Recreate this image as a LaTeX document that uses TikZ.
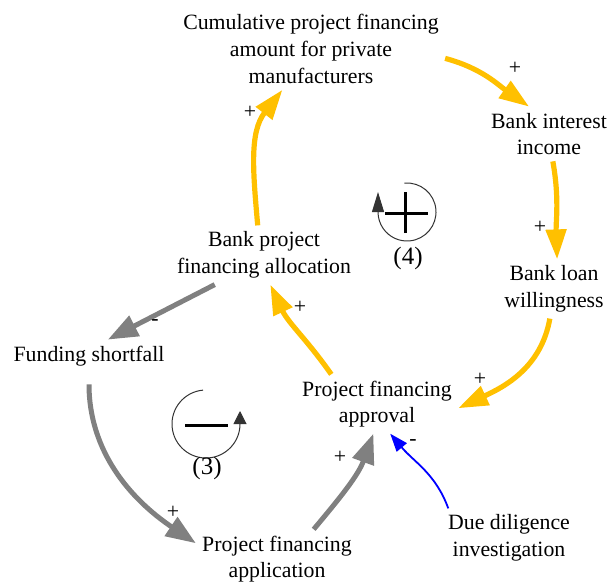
\documentclass[tikz,border=0pt]{standalone}
\usepackage{fontspec}
\setmainfont{Liberation Serif}
\usetikzlibrary{arrows.meta}

\definecolor{loopyellow}{HTML}{FFC000}
\definecolor{loopgray}{HTML}{808080}

\begin{document}
\begin{tikzpicture}[x=0.5pt, y=0.5pt,
		every node/.style={font=\fontsize{10.9}{13.3}\selectfont, inner sep=3pt, align=center},
		sign/.style={inner sep=0pt},
		loopnum/.style={font=\fontsize{12.5}{15}\selectfont},
		yellowlink/.style={color=loopyellow, line width=2.6pt, -{Triangle[length=15pt, width=10pt]}},
		graylink/.style={color=loopgray, line width=2.5pt, -{Triangle[length=15pt, width=11pt]}},
		bluelink/.style={color=blue, line width=0.9pt, -{Triangle[length=9pt, width=6.5pt]}},
		loopline/.style={draw=black!80, line width=0.5pt}]
		\useasboundingbox (0,0) rectangle (609,585);

		\node (cum) at (311,536) {Cumulative project financing\\amount for private\\manufacturers};
		\node (income) at (549,451) {Bank interest\\income};
		\node (willing) at (554,296) {Bank loan\\willingness};
		\node (approval) at (377,181) {Project financing\\approval};
		\node (alloc) at (264,330) {Bank project\\financing allocation};
		\node (shortfall) at (89,229) {Funding shortfall};
		\node (application) at (277,26) {Project financing\\application};
		\node (diligence) at (509,47) {Due diligence\\investigation};

		% reinforcing loop (4)
		\path [yellowlink]
			(cum.-4) edge [out=-15, in=145] (income.126)
			(income.-82) edge [out=-80, in=92] (willing.84)
			(willing.-98) edge [out=-100, in=25] (approval.-3)
			(approval.147) edge [out=125, in=-65] (alloc.-78)
			(alloc.102) edge [out=95, in=-128] (cum.-125);
		% balancing loop (3)
		\path [graylink]
			(alloc.-149) edge [] (shortfall.41)
			(shortfall.-90) edge [out=-90, in=146, shorten <=6pt] (application.169)
			(application.39) edge [out=50, in=-110] (approval.-97);
		\path [bluelink]
			(diligence.154) edge [out=110, in=-50] (approval.-66);

		\node [sign] (p1) at (515,517) {+};
		\node [sign] (p2) at (540,358) {+};
		\node [sign] (p3) at (480,206) {+};
		\node [sign] (p4) at (300,278) {+};
		\node [sign] (p5) at (250,473) {+};
		\node [sign] (m1) at (155,262) {-};
		\node [sign] (p6) at (173,73) {+};
		\node [sign] (p7) at (340,128) {+};
		\node [sign] (m2) at (413,142) {-};

		% loop markers
		\draw [loopline, -{Triangle[length=10pt, width=6pt]}]
			(407,373) +(95:29) arc [start angle=95, end angle=-180, radius=29] -- ++(0,20);
		\draw [line width=1.5pt] (385,372) -- (428,372) (405,352) -- (405,393);
		\node [loopnum] (loop4) at (408,327) {(4)};

		\draw [loopline, -{Triangle[length=6.5pt, width=6.5pt]}]
			(206,161) +(95:34) arc [start angle=95, end angle=360, radius=34] -- ++(0,13);
		\draw [line width=1.5pt] (185,160) -- (228,160);
		\node [loopnum] (loop3) at (207,117) {(3)};
\end{tikzpicture}
\end{document}
